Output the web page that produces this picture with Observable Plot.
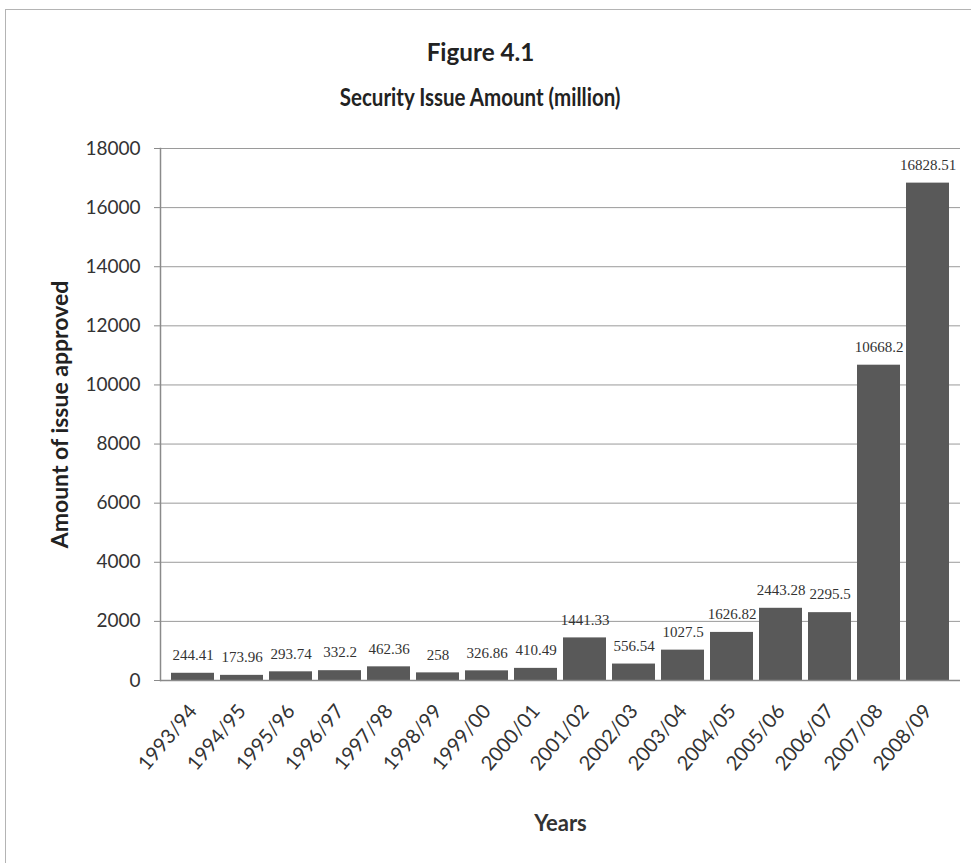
<!DOCTYPE html>
<html>
<head>
<meta charset="utf-8">
<script src="https://cdn.jsdelivr.net/npm/d3@7"></script>
<script src="https://cdn.jsdelivr.net/npm/@observablehq/plot@0.6"></script>
<style>
  html, body { margin: 0; padding: 0; background: #fff; width: 971px; height: 863px; overflow: hidden; }
  #frame { position: absolute; left: 5px; top: 9px; width: 1000px; height: 880px; border: 1px solid #b4b4b4; box-sizing: border-box; }
  .title { position: absolute; left: -5px; width: 971px; text-align: center; font-family: Lato, "Open Sans", sans-serif; font-weight: bold; color: #222; font-size: 25px; }
  .title span { display: inline-block; transform-origin: center; }
  #t1 { top: 36px; }
  #t1 span { transform: scaleX(0.97); }
  #t2 { top: 81px; }
  #t2 span { transform: scaleX(0.82); }
  #chart { position: absolute; left: 0; top: 125px; }
</style>
</head>
<body>
<div id="frame"></div>
<div class="title" id="t1"><span>Figure 4.1</span></div>
<div class="title" id="t2"><span>Security Issue Amount (million)</span></div>
<div id="chart"></div>
<script>
const years = ["1993/94","1994/95","1995/96","1996/97","1997/98","1998/99","1999/00","2000/01","2001/02","2002/03","2003/04","2004/05","2005/06","2006/07","2007/08","2008/09"];
const amounts = [244.41,173.96,293.74,332.2,462.36,258,326.86,410.49,1441.33,556.54,1027.5,1626.82,2443.28,2295.5,10668.2,16828.51];
const yTicks = [0,2000,4000,6000,8000,10000,12000,14000,16000,18000];
const xTitle = "Years";
const yTitle = "Amount of issue approved";

const data = years.map((y, i) => ({year: y, amount: amounts[i]}));

const chart = Plot.plot({
  width: 971,
  height: 730,
  marginTop: 23,
  marginBottom: 175,
  marginLeft: 160,
  marginRight: 11,
  style: {background: "transparent", overflow: "visible"},
  x: {type: "band", domain: years, padding: 0.12},
  y: {domain: [0, 18000]},
  marks: [
    Plot.gridY(yTicks, {stroke: "#9a9a9a", strokeOpacity: 1, strokeWidth: 1}),
    Plot.barY(data, {x: "year", y: "amount", fill: "#595959"}),
    Plot.ruleY([0], {stroke: "#8a8a8a", strokeWidth: 1.5}),
    Plot.axisY(yTicks, {tickSize: 6, tickPadding: 14, stroke: "#8a8a8a", fill: "#333", fontSize: 19, fontFamily: "Lato", label: null, tickFormat: d => String(d)}),
    Plot.frame({anchor: "left", stroke: "#8a8a8a", strokeWidth: 1.5}),
    Plot.axisX({tickRotate: -50, tickSize: 0, tickPadding: 27, fill: "#333", fontSize: 20, fontFamily: "Lato", label: null}),
    Plot.text(data, {x: "year", y: "amount", text: d => String(d.amount), dy: -18, fontFamily: "Liberation Serif", fontSize: 15, fill: "#333"}),
    Plot.text([xTitle], {frameAnchor: "bottom", dy: 150, fontWeight: "bold", fontSize: 22, fontFamily: "Lato", fill: "#333"}),
    Plot.text([yTitle], {frameAnchor: "left", textAnchor: "middle", dx: -100, rotate: -90, fontWeight: "bold", fontSize: 23, fontFamily: "Lato", fill: "#222"})
  ]
});
document.getElementById("chart").appendChild(chart);
</script>
</body>
</html>
